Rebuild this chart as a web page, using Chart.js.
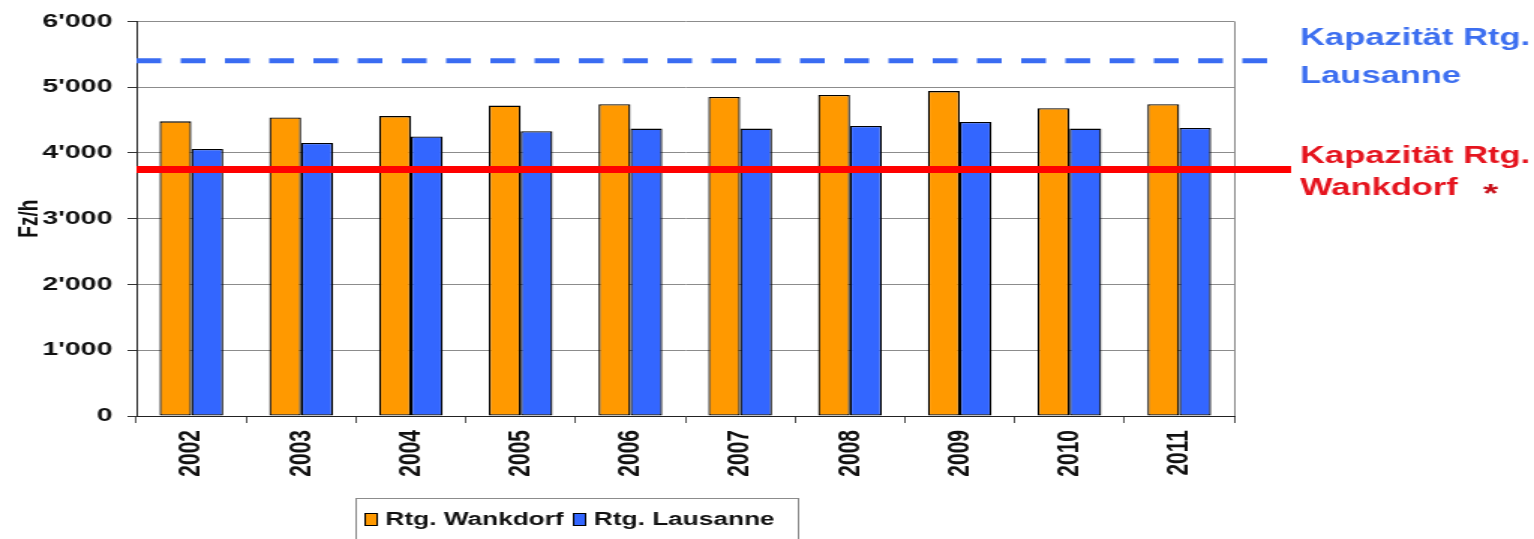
<!DOCTYPE html>
<html>
<head>
<meta charset="utf-8">
<script src="https://cdn.jsdelivr.net/npm/chart.js@4/dist/chart.umd.min.js"></script>
<style>
    html, body { margin: 0; padding: 0; background: #fff; overflow: hidden; }
</style>
</head>
<body>
<!-- 元画像は横に引き伸ばされているので、キャンバスもCSSで横に伸ばす -->
<canvas id="chart1" width="1023" height="539" style="width:1534px;height:539px;display:block;"></canvas>
<script>
"use strict";

// 😊データ
const years = ["2002", "2003", "2004", "2005", "2006", "2007", "2008", "2009", "2010", "2011"];
const wankdorf = [4480, 4540, 4560, 4720, 4740, 4850, 4880, 4940, 4680, 4740];
const lausanne = [4060, 4150, 4250, 4330, 4370, 4370, 4410, 4470, 4370, 4380];
const capacityLausanne = 5400;
const capacityWankdorf = 3750;
const labelLausanne = ["Kapazität Rtg.", "Lausanne"];
const labelWankdorf = ["Kapazität Rtg.", "Wankdorf"];
const yMin = 0;
const yMax = 6000;
const yStep = 1000;

const FONT = "'Liberation Sans', Arial, sans-serif";
const ORANGE = "#ff9900";
const BLUE = "#3366ff";

const formatThousands = (v) => String(v).replace(/\B(?=(\d{3})+(?!\d))/g, "'");

// 👇容量ラインと右側のラベル
const capacityPlugin = {
    id: "capacity",
    afterDatasetsDraw(chart) {
        const { ctx, chartArea, scales } = chart;
        const yL = scales.y.getPixelForValue(capacityLausanne);
        const yW = scales.y.getPixelForValue(capacityWankdorf);
        ctx.save();
        // 右枠
        ctx.strokeStyle = "#8c8c8c";
        ctx.lineWidth = 1;
        ctx.beginPath();
        ctx.moveTo(chartArea.right + 0.5, chartArea.top);
        ctx.lineTo(chartArea.right + 0.5, chartArea.bottom);
        ctx.stroke();

        // Lausanne (破線)
        ctx.strokeStyle = "#3a6cf2";
        ctx.lineWidth = 5;
        ctx.setLineDash([16.5, 13]);
        ctx.beginPath();
        ctx.moveTo(chartArea.left, yL);
        ctx.lineTo(chartArea.right + 28, yL);
        ctx.stroke();

        // Wankdorf (実線)
        ctx.setLineDash([]);
        ctx.strokeStyle = "#ff0000";
        ctx.lineWidth = 7;
        ctx.beginPath();
        ctx.moveTo(chartArea.left, yW);
        ctx.lineTo(chartArea.right + 38, yW);
        ctx.stroke();

        // ラベル
        const tx = chartArea.right + 44;
        ctx.font = `bold 23px ${FONT}`;
        ctx.textAlign = "left";
        ctx.textBaseline = "middle";
        ctx.fillStyle = "#3d6ff0";
        ctx.fillText(labelLausanne[0], tx, yL - 22);
        ctx.fillText(labelLausanne[1], tx, yL + 16);
        ctx.fillStyle = "#e5141e";
        ctx.fillText(labelWankdorf[0], tx, yW - 13);
        ctx.fillText(labelWankdorf[1], tx, yW + 19);
        const w = ctx.measureText(labelWankdorf[1] + "  ").width;
        ctx.fillStyle = "#c8101a";
        ctx.font = `bold 26px ${FONT}`;
        ctx.fillText("*", tx + w + 4, yW + 25);
        ctx.restore();
    },
};

// 👇枠付きの凡例
const legendBoxPlugin = {
    id: "legendBox",
    afterDraw(chart) {
        const { ctx } = chart;
        ctx.save();
        ctx.strokeStyle = "#8c8c8c";
        ctx.lineWidth = 1;
        ctx.strokeRect(237.5, 498.5, 295, 60);
        ctx.font = `bold 17.5px ${FONT}`;
        ctx.textBaseline = "middle";
        ctx.textAlign = "left";
        const xs = [243, 382];
        chart.data.datasets.forEach((ds, i) => {
            ctx.fillStyle = ds.backgroundColor;
            ctx.fillRect(xs[i], 513, 8, 13);
            ctx.strokeStyle = "#000";
            ctx.strokeRect(xs[i] + 0.5, 513.5, 8, 12);
            ctx.fillStyle = "#111";
            ctx.fillText(ds.label, xs[i] + 14, 520);
        });
        ctx.restore();
    },
};

const context = document.getElementById("chart1").getContext("2d");
const myChart = new Chart(context, {
    type: "bar",
    data: {
        labels: years,
        datasets: [
            {
                label: "Rtg. Wankdorf",
                data: wankdorf,
                backgroundColor: ORANGE,
                borderColor: "#000",
                borderWidth: 1.3,
                borderSkipped: false,
            },
            {
                label: "Rtg. Lausanne",
                data: lausanne,
                backgroundColor: BLUE,
                borderColor: "#000",
                borderWidth: 1.3,
                borderSkipped: false,
            },
        ],
    },
    options: {
        responsive: false,
        animation: false,
        devicePixelRatio: 1,
        categoryPercentage: 0.58,
        barPercentage: 1.0,
        layout: {
            padding: { top: 21, right: 200, bottom: 0, left: 0 },
        },
        plugins: {
            legend: { display: false },
            tooltip: { enabled: false },
        },
        scales: {
            x: {
                grid: {
                    drawOnChartArea: false,
                    drawTicks: true,
                    tickLength: 7,
                    color: "#555",
                },
                border: { color: "#222", width: 1 },
                ticks: {
                    minRotation: 90,
                    maxRotation: 90,
                    padding: 7,
                    color: "#111",
                    font: { family: FONT, size: 21, weight: "bold" },
                },
                afterFit: (scale) => {
                    scale.height = 123;
                },
            },
            y: {
                min: yMin,
                max: yMax,
                ticks: {
                    stepSize: yStep,
                    padding: 10,
                    color: "#111",
                    font: { family: FONT, size: 19, weight: "bold" },
                    callback: (v) => formatThousands(v),
                },
                grid: {
                    color: "#8c8c8c",
                    tickColor: "#333",
                    tickLength: 6,
                },
                border: { color: "#222", width: 1 },
                title: {
                    display: true,
                    text: "Fz/h",
                    color: "#111",
                    padding: { top: 8, bottom: 0 },
                    font: { family: FONT, size: 19, weight: "bold" },
                },
                afterFit: (scale) => {
                    scale.width = 91;
                },
            },
        },
    },
    plugins: [capacityPlugin, legendBoxPlugin],
});
</script>
</body>
</html>
